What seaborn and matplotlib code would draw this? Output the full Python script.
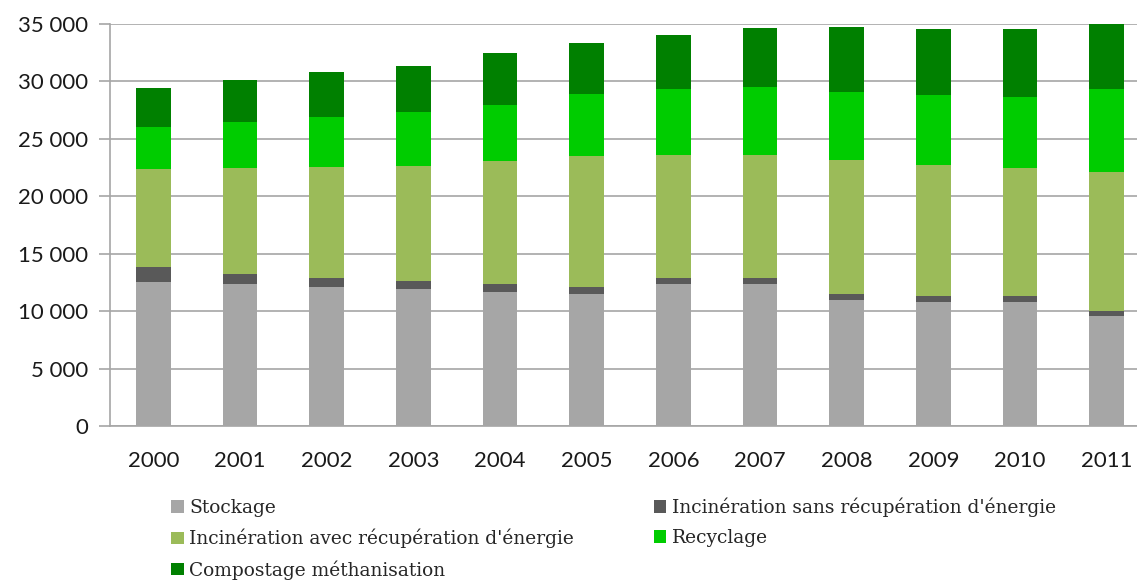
import numpy as np
import pandas as pd
import matplotlib.pyplot as plt
import seaborn as sns
from matplotlib.patches import Patch

years = ["2000", "2001", "2002", "2003", "2004", "2005",
         "2006", "2007", "2008", "2009", "2010", "2011"]

stockage = [12510, 12340, 12130, 11900, 11690, 11490, 12340, 12340, 10970, 10770, 10770, 9600]
incin_sans = [1360, 920, 730, 720, 640, 640, 520, 520, 520, 520, 520, 410]
incin_avec = [8480, 9180, 9690, 10040, 10710, 11380, 10730, 10730, 11670, 11460, 11140, 12100]
recyclage = [3710, 4060, 4380, 4680, 4900, 5400, 5720, 5950, 5950, 6070, 6180, 7230]
compostage = [3340, 3660, 3870, 4030, 4500, 4470, 4700, 5090, 5630, 5720, 5920, 5700]

series = ["Stockage", "Incinération sans récupération d'énergie",
          "Incinération avec récupération d'énergie", "Recyclage",
          "Compostage méthanisation"]
colors = ["#A6A6A6", "#595959", "#9BBB59", "#00CC00", "#008000"]

df = pd.DataFrame({"annee": years, series[0]: stockage, series[1]: incin_sans,
                   series[2]: incin_avec, series[3]: recyclage, series[4]: compostage})
cum = df[series].cumsum(axis=1)
cum["annee"] = df["annee"]

sns.set_style("white")
fig = plt.figure(figsize=(11.37, 5.82), dpi=100)
ax = fig.add_axes([110 / 1137, 1 - 426 / 582, 1040 / 1137, 402 / 582])

# stacked bars: draw the cumulated totals from the top layer down
for s, c in reversed(list(zip(series, colors))):
    sns.barplot(data=cum, x="annee", y=s, color=c, width=0.4, ax=ax,
                saturation=1, linewidth=0, zorder=3)

ax.set_ylim(0, 35000)
ax.set_xlim(-0.5, 11.5)
ax.set_yticks(np.arange(0, 35001, 5000))
ax.set_yticklabels([f"{v:,}".replace(",", " ") for v in range(0, 35001, 5000)])
ax.yaxis.grid(True, color="#A6A6A6", linewidth=1.2, zorder=0)
ax.set_axisbelow(True)
ax.set_xlabel("")
ax.set_ylabel("")

for sp in ["top", "right"]:
    ax.spines[sp].set_visible(False)
for sp in ["left", "bottom"]:
    ax.spines[sp].set_color("#A6A6A6")
    ax.spines[sp].set_linewidth(1.2)

ax.set_xticks(np.arange(-0.5, 12, 1), minor=True)
ax.tick_params(axis="x", which="major", length=0, pad=18, labelsize=16, labelcolor="#1a1a1a")
ax.tick_params(axis="x", which="minor", length=8, width=1.2, color="#A6A6A6", direction="out")
ax.tick_params(axis="y", length=8, width=1.2, color="#A6A6A6", direction="out",
               left=True, pad=8, labelsize=16, labelcolor="#1a1a1a")
for lab in ax.get_xticklabels() + ax.get_yticklabels():
    lab.set_family(["Lato", "DejaVu Sans"])

handles = [Patch(facecolor=c, edgecolor="none") for c in colors]
order = [0, 2, 4, 1, 3]
fig.legend([handles[i] for i in order], [series[i] for i in order],
           ncol=2, loc="upper left", bbox_to_anchor=(164 / 1137, 1 - 490 / 582),
           frameon=False, prop={"family": "DejaVu Serif", "size": 13.4},
           handlelength=0.65, handleheight=0.65, handletextpad=0.3,
           labelspacing=0.64, columnspacing=4.3, borderaxespad=0)

fig.savefig("out.png", dpi=100)
